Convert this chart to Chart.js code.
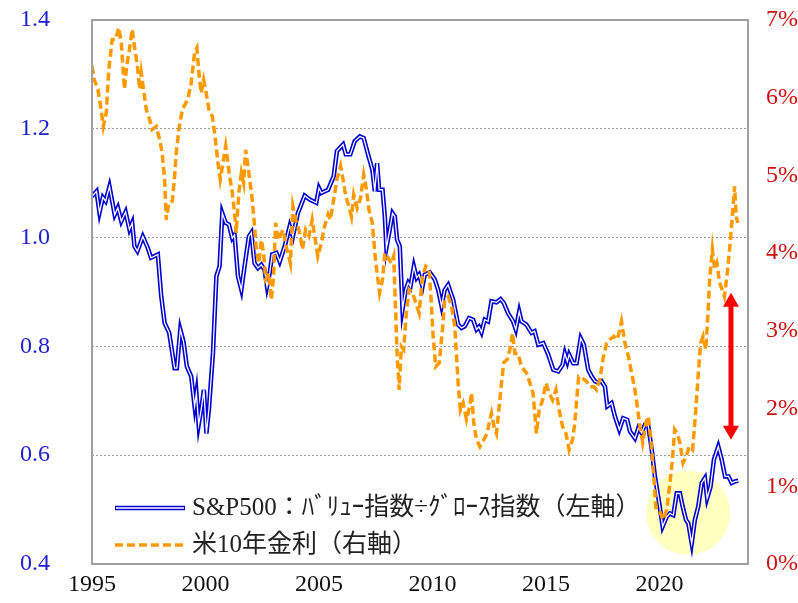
<!DOCTYPE html>
<html>
<head>
<meta charset="utf-8">
<script src="https://cdn.jsdelivr.net/npm/chart.js@4"></script>
<style>
  body { margin: 0; background: #fff; }
  canvas { display: block; }
</style>
</head>
<body>
<canvas id="ratioChart" width="798" height="603"></canvas>
<script>
// S&P500 value / growth ratio (left axis)
const ratioYears = [
    1995.00, 1995.20, 1995.33, 1995.48, 1995.60, 1995.77, 1996.00, 1996.14, 1996.29, 1996.48,
    1996.65, 1996.77, 1996.87, 1997.00, 1997.24, 1997.46, 1997.60, 1997.90, 1998.05, 1998.20,
    1998.40, 1998.64, 1998.74, 1998.89, 1999.03, 1999.18, 1999.37, 1999.52, 1999.60, 1999.70,
    1999.81, 1999.93, 2000.04, 2000.15, 2000.33, 2000.48, 2000.62, 2000.74, 2000.89, 2001.03,
    2001.18, 2001.28, 2001.43, 2001.58, 2001.72, 2001.91, 2002.02, 2002.16, 2002.31, 2002.46,
    2002.60, 2002.71, 2002.83, 2002.94, 2003.12, 2003.27, 2003.49, 2003.71, 2003.85, 2004.07,
    2004.37, 2004.59, 2004.88, 2005.00, 2005.10, 2005.40, 2005.65, 2005.79, 2006.06, 2006.18,
    2006.38, 2006.57, 2006.80, 2006.97, 2007.16, 2007.35, 2007.46, 2007.56, 2007.65, 2007.80,
    2007.90, 2007.97, 2008.12, 2008.24, 2008.34, 2008.44, 2008.56, 2008.68, 2008.82, 2008.93,
    2009.03, 2009.18, 2009.30, 2009.41, 2009.56, 2009.66, 2009.88, 2010.10, 2010.25, 2010.40,
    2010.54, 2010.69, 2010.91, 2011.13, 2011.28, 2011.42, 2011.61, 2011.79, 2011.94, 2012.05,
    2012.16, 2012.30, 2012.45, 2012.60, 2012.82, 2013.00, 2013.14, 2013.33, 2013.55, 2013.67,
    2013.82, 2013.92, 2014.14, 2014.36, 2014.50, 2014.66, 2014.88, 2015.10, 2015.32, 2015.54,
    2015.73, 2015.83, 2015.94, 2016.02, 2016.20, 2016.35, 2016.53, 2016.67, 2016.86, 2017.01,
    2017.16, 2017.30, 2017.45, 2017.60, 2017.70, 2017.89, 2018.04, 2018.23, 2018.40, 2018.58,
    2018.70, 2018.92, 2019.07, 2019.21, 2019.36, 2019.50, 2019.66, 2019.80, 2019.99, 2020.14,
    2020.32, 2020.46, 2020.61, 2020.76, 2020.90, 2021.02, 2021.17, 2021.27, 2021.42, 2021.56,
    2021.71, 2021.86, 2022.00, 2022.10, 2022.25, 2022.40, 2022.59, 2022.74, 2022.89, 2023.04,
    2023.18, 2023.33, 2023.47
];
const ratioValues = [
    1.076, 1.085, 1.046, 1.074, 1.067, 1.094, 1.042, 1.055, 1.030, 1.047,
    1.015, 1.027, 0.984, 0.975, 1.002, 0.981, 0.963, 0.969, 0.892, 0.843,
    0.825, 0.760, 0.760, 0.831, 0.809, 0.763, 0.745, 0.690, 0.714, 0.656,
    0.684, 0.720, 0.640, 0.684, 0.788, 0.929, 0.947, 1.045, 1.027, 1.024,
    0.999, 1.005, 0.929, 0.904, 0.947, 1.002, 1.009, 0.953, 0.944, 0.950,
    0.941, 0.910, 0.935, 0.969, 0.972, 0.956, 0.984, 1.021, 1.002, 1.045,
    1.077, 1.070, 1.064, 1.091, 1.082, 1.088, 1.113, 1.159, 1.171, 1.153,
    1.153, 1.177, 1.186, 1.183, 1.153, 1.125, 1.085, 1.137, 1.088, 1.088,
    1.039, 0.981, 1.015, 1.045, 1.039, 0.996, 0.984, 0.868, 0.904, 0.917,
    0.910, 0.947, 0.926, 0.932, 0.910, 0.932, 0.936, 0.923, 0.904, 0.874,
    0.904, 0.913, 0.886, 0.840, 0.834, 0.837, 0.852, 0.849, 0.831, 0.836,
    0.826, 0.849, 0.846, 0.883, 0.881, 0.887, 0.880, 0.861, 0.846, 0.831,
    0.864, 0.846, 0.840, 0.825, 0.828, 0.803, 0.806, 0.785, 0.757, 0.754,
    0.766, 0.787, 0.772, 0.785, 0.769, 0.769, 0.815, 0.803, 0.757, 0.745,
    0.736, 0.733, 0.736, 0.726, 0.690, 0.696, 0.671, 0.647, 0.668, 0.665,
    0.644, 0.631, 0.650, 0.641, 0.656, 0.656, 0.610, 0.561, 0.512, 0.469,
    0.487, 0.493, 0.490, 0.530, 0.530, 0.506, 0.481, 0.475, 0.438, 0.481,
    0.506, 0.549, 0.558, 0.521, 0.542, 0.592, 0.616, 0.592, 0.561, 0.561,
    0.549, 0.552, 0.553
];

// US 10-year yield, % (right axis)
const yieldYears = [
    1995.00, 1995.10, 1995.26, 1995.40, 1995.50, 1995.63, 1995.74, 1995.89, 1996.04, 1996.18,
    1996.29, 1996.36, 1996.43, 1996.53, 1996.65, 1996.77, 1996.87, 1997.00, 1997.10, 1997.17,
    1997.27, 1997.39, 1997.54, 1997.65, 1997.83, 1997.98, 1998.09, 1998.20, 1998.27, 1998.39,
    1998.54, 1998.64, 1998.71, 1998.83, 1998.98, 1999.22, 1999.37, 1999.52, 1999.62, 1999.71,
    1999.81, 1999.92, 2000.03, 2000.15, 2000.30, 2000.40, 2000.55, 2000.65, 2000.77, 2000.89,
    2000.99, 2001.06, 2001.18, 2001.28, 2001.35, 2001.47, 2001.58, 2001.68, 2001.77, 2001.91,
    2002.06, 2002.16, 2002.24, 2002.35, 2002.46, 2002.56, 2002.65, 2002.80, 2002.90, 2003.00,
    2003.09, 2003.20, 2003.30, 2003.42, 2003.53, 2003.63, 2003.74, 2003.85, 2003.97, 2004.12,
    2004.27, 2004.41, 2004.56, 2004.70, 2004.81, 2004.95, 2005.10, 2005.25, 2005.40, 2005.50,
    2005.65, 2005.79, 2005.95, 2006.06, 2006.18, 2006.32, 2006.43, 2006.53, 2006.68, 2006.83,
    2006.97, 2007.09, 2007.20, 2007.35, 2007.46, 2007.56, 2007.67, 2007.80, 2007.90, 2008.04,
    2008.19, 2008.29, 2008.38, 2008.44, 2008.53, 2008.63, 2008.73, 2008.85, 2008.97, 2009.12,
    2009.22, 2009.41, 2009.56, 2009.70, 2009.85, 2009.94, 2010.02, 2010.14, 2010.30, 2010.44,
    2010.54, 2010.69, 2010.84, 2010.98, 2011.13, 2011.23, 2011.35, 2011.50, 2011.64, 2011.72,
    2011.82, 2011.94, 2012.09, 2012.26, 2012.41, 2012.53, 2012.60, 2012.71, 2012.82, 2012.94,
    2013.04, 2013.14, 2013.29, 2013.41, 2013.53, 2013.63, 2013.77, 2013.92, 2014.14, 2014.29,
    2014.43, 2014.58, 2014.70, 2014.85, 2015.00, 2015.14, 2015.29, 2015.44, 2015.58, 2015.73,
    2015.88, 2016.02, 2016.17, 2016.27, 2016.35, 2016.44, 2016.61, 2016.79, 2016.94, 2017.11,
    2017.23, 2017.38, 2017.52, 2017.67, 2017.82, 2017.99, 2018.14, 2018.26, 2018.33, 2018.48,
    2018.63, 2018.77, 2018.92, 2019.02, 2019.14, 2019.26, 2019.40, 2019.50, 2019.61, 2019.73,
    2019.85, 2020.02, 2020.17, 2020.32, 2020.46, 2020.57, 2020.67, 2020.78, 2020.90, 2021.04,
    2021.17, 2021.31, 2021.46, 2021.60, 2021.70, 2021.81, 2021.92, 2022.04, 2022.14, 2022.21,
    2022.33, 2022.43, 2022.53, 2022.65, 2022.76, 2022.86, 2022.97, 2023.09, 2023.21, 2023.31,
    2023.38, 2023.45
];
const yieldValues = [
    6.41, 6.23, 6.11, 5.85, 5.63, 5.81, 6.36, 6.75, 6.75, 6.90,
    6.71, 6.41, 6.11, 6.41, 6.62, 6.88, 6.66, 6.41, 6.11, 6.32,
    6.11, 5.85, 5.72, 5.59, 5.63, 5.46, 5.29, 4.95, 4.43, 4.65,
    4.67, 4.99, 5.29, 5.59, 5.85, 5.98, 6.19, 6.58, 6.64, 6.32,
    6.06, 6.23, 6.06, 5.85, 5.76, 5.55, 5.16, 4.95, 5.16, 5.38,
    5.16, 4.99, 4.78, 4.52, 4.26, 4.78, 5.03, 4.90, 5.33, 5.03,
    4.69, 4.35, 4.05, 3.87, 4.17, 4.00, 3.66, 3.74, 3.40, 3.70,
    4.39, 4.17, 4.24, 4.30, 4.11, 4.00, 3.87, 4.60, 4.43, 4.30,
    4.05, 4.30, 4.22, 4.43, 4.22, 3.96, 4.13, 4.35, 4.50, 4.43,
    4.69, 4.95, 5.12, 4.95, 4.73, 4.60, 4.47, 4.75, 4.58, 4.71,
    5.01, 4.82, 4.56, 4.39, 4.00, 3.74, 3.49, 3.66, 4.00, 3.94,
    3.87, 3.96, 3.23, 2.71, 2.24, 2.80, 2.76, 3.23, 3.53, 3.49,
    3.40, 3.23, 3.70, 3.83, 3.79, 3.40, 2.97, 2.54, 2.59, 3.02,
    3.40, 3.44, 3.32, 3.06, 2.33, 1.98, 2.07, 1.86, 2.03, 2.20,
    1.81, 1.60, 1.51, 1.60, 1.68, 1.86, 1.94, 1.77, 1.68, 2.03,
    2.33, 2.59, 2.63, 2.76, 2.97, 2.71, 2.71, 2.54, 2.46, 2.33,
    2.20, 1.68, 1.98, 2.11, 2.33, 2.20, 2.11, 2.24, 1.98, 1.77,
    1.68, 1.47, 1.60, 1.81, 2.10, 2.41, 2.39, 2.35, 2.28, 2.28,
    2.24, 2.39, 2.65, 2.84, 2.89, 2.93, 2.89, 3.02, 3.12, 2.84,
    2.67, 2.46, 2.24, 2.03, 1.77, 1.56, 1.81, 1.90, 1.64, 1.21,
    0.70, 0.67, 0.57, 0.70, 1.04, 1.34, 1.73, 1.68, 1.56, 1.30,
    1.38, 1.51, 1.47, 1.98, 2.41, 2.84, 2.93, 2.76, 3.23, 3.66,
    4.05, 3.79, 3.87, 3.62, 3.53, 3.44, 3.70, 4.05, 4.47, 4.86,
    4.47, 4.39
];

const yearTicks = [1995, 2000, 2005, 2010, 2015, 2020];
const ratioTicks = [0.4, 0.6, 0.8, 1.0, 1.2, 1.4];
const yieldTicks = [0, 1, 2, 3, 4, 5, 6, 7];

const legendLabels = ['S&P500：ﾊﾞﾘｭｰ指数÷ｸﾞﾛｰｽ指数（左軸）', '米10年金利（右軸）'];

// highlight circle (left axis) and gap arrow (right axis)
const circleSpot = { x: 2021.26, y: 0.494, r: 1.85 };
const gapArrow = { x: 2023.15, top: 3.49, bottom: 1.6 };

const serif = '"Liberation Serif", "Noto Sans CJK JP", serif';

function toPoints(xs, ys) {
    return xs.map(function(x, i) { return { x: x, y: ys[i] }; });
}

const ratioPoints = toPoints(ratioYears, ratioValues);
const yieldPoints = toPoints(yieldYears, yieldValues);

const annotations = {
    id: 'annotations',
    beforeDatasetsDraw: function(chart) {
        const ctx = chart.ctx;
        const xs = chart.scales.x, ys = chart.scales.y;
        const cx = xs.getPixelForValue(circleSpot.x);
        const cy = ys.getPixelForValue(circleSpot.y);
        const r = xs.getPixelForValue(circleSpot.x + circleSpot.r) - cx;
        ctx.save();
        ctx.fillStyle = 'rgba(255, 255, 185, 0.9)';
        ctx.beginPath();
        ctx.arc(cx, cy, r, 0, Math.PI * 2);
        ctx.fill();
        ctx.restore();
    },
    afterDatasetsDraw: function(chart) {
        const ctx = chart.ctx;
        const area = chart.chartArea;
        const xs = chart.scales.x, ys = chart.scales.y1;

        // red double arrow
        const ax = xs.getPixelForValue(gapArrow.x);
        const top = ys.getPixelForValue(gapArrow.top);
        const bottom = ys.getPixelForValue(gapArrow.bottom);
        const head = 14, half = 8;
        ctx.save();
        ctx.strokeStyle = '#ff0000';
        ctx.fillStyle = '#ff0000';
        ctx.lineWidth = 5;
        ctx.beginPath();
        ctx.moveTo(ax, top + head - 1);
        ctx.lineTo(ax, bottom - head + 1);
        ctx.stroke();
        ctx.beginPath();
        ctx.moveTo(ax, top);
        ctx.lineTo(ax - half, top + head);
        ctx.lineTo(ax + half, top + head);
        ctx.closePath();
        ctx.fill();
        ctx.beginPath();
        ctx.moveTo(ax, bottom);
        ctx.lineTo(ax - half, bottom - head);
        ctx.lineTo(ax + half, bottom - head);
        ctx.closePath();
        ctx.fill();

        // plot frame
        ctx.strokeStyle = '#a0a0a0';
        ctx.lineWidth = 2;
        ctx.strokeRect(area.left, area.top, area.right - area.left, area.bottom - area.top);

        // legend inside the plot
        const lx = area.left + 23;
        const y1 = area.bottom - 56;
        const y2 = area.bottom - 19;
        ctx.lineCap = 'butt';
        ctx.strokeStyle = '#0000d0';
        ctx.lineWidth = 4.5;
        ctx.beginPath();
        ctx.moveTo(lx, y1);
        ctx.lineTo(lx + 70, y1);
        ctx.stroke();
        ctx.strokeStyle = '#ffffff';
        ctx.lineWidth = 1.3;
        ctx.beginPath();
        ctx.moveTo(lx + 1, y1);
        ctx.lineTo(lx + 69, y1);
        ctx.stroke();
        ctx.strokeStyle = '#ff9900';
        ctx.lineWidth = 3.5;
        ctx.setLineDash([8, 4]);
        ctx.beginPath();
        ctx.moveTo(lx, y2);
        ctx.lineTo(lx + 70, y2);
        ctx.stroke();
        ctx.setLineDash([]);
        ctx.fillStyle = '#222';
        ctx.font = '25px ' + serif;
        ctx.textBaseline = 'middle';
        ctx.textAlign = 'left';
        ctx.fillText(legendLabels[0], lx + 77, y1);
        ctx.fillText(legendLabels[1], lx + 77, y2);
        ctx.restore();
    }
};

const ctx = document.getElementById('ratioChart').getContext('2d');
new Chart(ctx, {
    type: 'line',
    data: {
        datasets: [
            {
                label: legendLabels[1],
                data: yieldPoints,
                yAxisID: 'y1',
                borderColor: '#ff9900',
                borderWidth: 3.5,
                borderDash: [8, 4],
                pointRadius: 0,
                tension: 0,
                order: 0
            },
            {
                label: 'inner',
                data: ratioPoints,
                yAxisID: 'y',
                borderColor: '#ffffff',
                borderWidth: 1.3,
                pointRadius: 0,
                tension: 0,
                order: 1
            },
            {
                label: legendLabels[0],
                data: ratioPoints,
                yAxisID: 'y',
                borderColor: '#0000d0',
                borderWidth: 4.5,
                pointRadius: 0,
                tension: 0,
                order: 2
            }
        ]
    },
    options: {
        responsive: false,
        animation: false,
        devicePixelRatio: 1,
        layout: { padding: { top: 20, left: 20, right: 0, bottom: 0 } },
        plugins: {
            legend: { display: false },
            tooltip: { enabled: false }
        },
        scales: {
            x: {
                type: 'linear',
                min: 1995,
                max: 2023.9,
                afterBuildTicks: function(scale) {
                    scale.ticks = yearTicks.map(function(v) { return { value: v }; });
                },
                afterFit: function(scale) { scale.height = 39; },
                ticks: {
                    color: '#111',
                    padding: 6,
                    maxRotation: 0,
                    font: { family: serif, size: 24 },
                    callback: function(value) { return String(value); }
                },
                grid: { display: false, drawTicks: false },
                border: { display: false }
            },
            y: {
                position: 'left',
                min: 0.4,
                max: 1.4,
                afterBuildTicks: function(scale) {
                    scale.ticks = ratioTicks.map(function(v) { return { value: v }; });
                },
                afterFit: function(scale) { scale.width = 72; },
                ticks: {
                    color: '#2020d0',
                    padding: 0,
                    crossAlign: 'far',
                    font: { family: serif, size: 24 },
                    callback: function(value) { return value.toFixed(1); }
                },
                grid: {
                    drawTicks: false,
                    lineWidth: 1,
                    color: function(c) {
                        if (c.index === 0 || c.index === ratioTicks.length - 1) return 'rgba(0,0,0,0)';
                        return '#9a9a9a';
                    }
                },
                border: { display: false, dash: [2, 2] }
            },
            y1: {
                position: 'right',
                min: 0,
                max: 7,
                afterBuildTicks: function(scale) {
                    scale.ticks = yieldTicks.map(function(v) { return { value: v }; });
                },
                afterFit: function(scale) { scale.width = 50; },
                ticks: {
                    color: '#cc1111',
                    padding: 0,
                    crossAlign: 'far',
                    font: { family: serif, size: 24 },
                    callback: function(value) { return value + '%'; }
                },
                grid: { display: false, drawTicks: false },
                border: { display: false }
            }
        }
    },
    plugins: [annotations]
});
</script>
</body>
</html>
